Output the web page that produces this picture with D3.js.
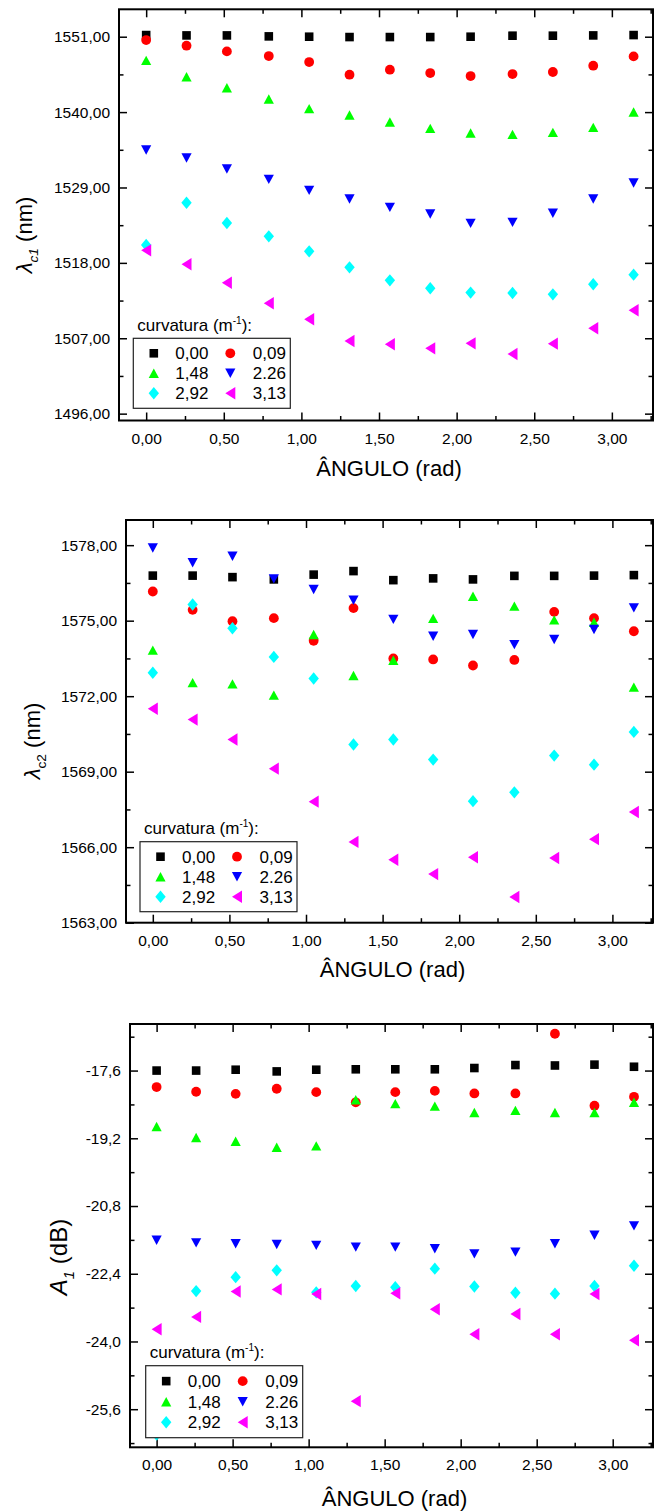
<!DOCTYPE html>
<html><head><meta charset="utf-8">
<script src="https://cdn.jsdelivr.net/npm/d3@7"></script>
<style>
body{margin:0;background:#fff}
svg{display:block}
text{font-family:"Liberation Sans",Arial,Helvetica,sans-serif;fill:#000}
</style>
</head><body>
<svg id="c" width="655" height="1512"></svg>
<script>
// ---------- data ----------
const angle = [0, 0.26, 0.52, 0.79, 1.05, 1.31, 1.57, 1.83, 2.09, 2.36, 2.62, 2.88, 3.14];
const curvatures = ["0,00", "0,09", "1,48", "2.26", "2,92", "3,13"];
const colors = ["#000000", "#ff0000", "#00ff00", "#0000ff", "#00ffff", "#ff00ff"];
const shapes = ["square", "circle", "up", "down", "diamond", "left"];

const xTicks = [0, 0.5, 1, 1.5, 2, 2.5, 3];
const xMinor = [0.25, 0.75, 1.25, 1.75, 2.25, 2.75, 3.25];

// lambda c1 (nm)
const lc1_000 = [1551.24,1551.19,1551.19,1551.05,1551.00,1550.95,1550.95,1550.95,1551.00,1551.15,1551.15,1551.19,1551.24];
const lc1_009 = [1550.51,1549.69,1548.86,1548.18,1547.30,1545.46,1546.19,1545.70,1545.26,1545.55,1545.85,1546.77,1548.13];
const lc1_148 = [1547.55,1545.16,1543.56,1541.91,1540.50,1539.57,1538.55,1537.63,1536.95,1536.75,1537.04,1537.77,1540.01];
const lc1_226 = [1534.47,1533.30,1531.70,1530.19,1528.58,1527.32,1526.10,1525.13,1523.77,1523.91,1525.23,1527.32,1529.65];
const lc1_292 = [1520.61,1526.78,1523.82,1521.87,1519.68,1517.35,1515.45,1514.29,1513.66,1513.61,1513.41,1514.87,1516.28];
const lc1_313 = [1519.83,1517.79,1515.11,1512.10,1509.77,1506.60,1506.12,1505.53,1506.26,1504.71,1506.21,1508.45,1511.08];
const lc1Ticks = [1496, 1507, 1518, 1529, 1540, 1551];
const lc1Minor = [1501.5, 1512.5, 1523.5, 1534.5, 1545.5];

// lambda c2 (nm)
const lc2_000 = [1576.79,1576.79,1576.73,1576.64,1576.83,1576.97,1576.61,1576.68,1576.64,1576.78,1576.78,1576.79,1576.81];
const lc2_009 = [1576.16,1575.43,1574.98,1575.10,1574.20,1575.50,1573.50,1573.46,1573.22,1573.44,1575.35,1575.10,1574.58];
const lc2_148 = [1573.83,1572.54,1572.49,1572.04,1574.45,1572.82,1573.43,1575.09,1575.97,1575.58,1575.03,1574.94,1572.36];
const lc2_226 = [1577.89,1577.30,1577.56,1576.66,1576.24,1575.81,1575.05,1574.38,1574.45,1574.05,1574.25,1574.65,1575.51];
const lc2_292 = [1572.93,1575.64,1574.70,1573.56,1572.70,1570.08,1570.28,1569.48,1567.83,1568.18,1569.64,1569.28,1570.58];
const lc2_313 = [1571.50,1571.07,1570.28,1569.12,1567.81,1566.21,1565.50,1564.93,1565.60,1564.02,1565.57,1566.32,1567.40];
const lc2Ticks = [1563, 1566, 1569, 1572, 1575, 1578];
const lc2Minor = [1564.5, 1567.5, 1570.5, 1573.5, 1576.5];

// A1 (dB)
const a1_000 = [-17.60,-17.60,-17.58,-17.62,-17.58,-17.57,-17.57,-17.57,-17.54,-17.47,-17.48,-17.46,-17.51];
const a1_009 = [-17.99,-18.10,-18.15,-18.03,-18.11,-18.35,-18.11,-18.08,-18.14,-18.14,-16.73,-18.43,-18.22];
const a1_148 = [-18.92,-19.18,-19.27,-19.41,-19.38,-18.29,-18.38,-18.44,-18.59,-18.54,-18.59,-18.59,-18.35];
const a1_226 = [-21.61,-21.67,-21.69,-21.71,-21.73,-21.77,-21.77,-21.81,-21.93,-21.89,-21.69,-21.49,-21.27];
const a1_292 = [-26.20,-22.81,-22.48,-22.32,-22.84,-22.69,-22.72,-22.28,-22.70,-22.85,-22.87,-22.69,-22.21];
const a1_313 = [-23.71,-23.42,-22.82,-22.77,-22.88,-25.41,-22.86,-23.24,-23.83,-23.35,-23.83,-22.88,-23.97];
const a1Ticks = [-25.6, -24.0, -22.4, -20.8, -19.2, -17.6];
const a1Minor = [-26.4, -24.8, -23.2, -21.6, -20.0, -18.4, -16.8];

// ---------- drawing ----------
const svg = d3.select("#c");
svg.append("rect").attr("width", 655).attr("height", 1512).attr("fill", "#fff");

const xDomain = [-0.175, 3.265];
const RIGHT = 653;

function markerPath(shape) {
  switch (shape) {
    case "square": return "M-4.3,-4.3H4.3V4.3H-4.3Z";
    case "circle": return d3.arc()({innerRadius:0, outerRadius:4.9, startAngle:0, endAngle:2*Math.PI});
    case "up": return "M0,-4.7L5.1,4.7L-5.1,4.7Z";
    case "down": return "M-5.1,-4.7L5.1,-4.7L0,4.7Z";
    case "diamond": return "M0,-6.2L5.2,0L0,6.2L-5.2,0Z";
    case "left": return "M-5,0L5,-6.2L5,6.2Z";
  }
}

function yTitle(g, cfg) {
  const t = g.append("text")
    .attr("transform", `translate(${cfg.titleX},${cfg.titleY}) rotate(-90)`)
    .attr("text-anchor", "middle")
    .style("font-size", cfg.titleSize + "px");
  t.append("tspan").text(cfg.titleMain).style("font-style", "italic");
  t.append("tspan").text(cfg.titleSub)
    .style("font-size", (cfg.titleSize * 0.62) + "px")
    .style("font-style", cfg.subItalic ? "italic" : "normal")
    .attr("dy", cfg.titleSize * 0.28);
  t.append("tspan").text(cfg.titleRest).attr("dy", -cfg.titleSize * 0.28);
}

function legend(g, cfg) {
  const bx = cfg.legX, by = cfg.legY, bw = 157, bh = cfg.legH;
  const cap = g.append("text").attr("x", bx + 4).attr("y", by - 7.5).style("font-size", "17px");
  cap.append("tspan").text("curvatura (m");
  cap.append("tspan").text("-1").style("font-size", "10px").attr("dy", -7);
  cap.append("tspan").text("):").attr("dy", 7);
  g.append("rect").attr("x", bx).attr("y", by).attr("width", bw).attr("height", bh)
    .attr("fill", "#fff").attr("stroke", "#222").attr("stroke-width", 1.2);
  const colSym = [20.5, 97], colTxt = [42, 119.5];
  curvatures.forEach((c, i) => {
    const col = i % 2, row = Math.floor(i / 2);
    const cy = by + bh * (15 / 70) + row * bh * (20 / 70);
    g.append("path").attr("d", markerPath(shapes[i]))
      .attr("transform", `translate(${bx + colSym[col]},${cy})`)
      .attr("fill", colors[i]);
    g.append("text").attr("x", bx + colTxt[col]).attr("y", cy + 6)
      .style("font-size", "17px").text(c);
  });
}

function panel(cfg) {
  const g = svg.append("g");
  const x = d3.scaleLinear().domain(xDomain).range([cfg.left, RIGHT]);
  const y = d3.scaleLinear().domain(cfg.yDomain).range([cfg.bottom, cfg.top]);
  const fx = d => d.toFixed(2).replace(".", ",");
  const fy = d => d.toFixed(cfg.dec).replace(".", ",");

  const style = sel => {
    sel.select(".domain").remove();
    sel.selectAll(".tick line").attr("stroke", "#000").attr("stroke-width", 1.5);
    sel.selectAll("text").style("font-size", "15.5px")
      .attr("font-family", null).style("font-family", '"Liberation Sans",Arial,sans-serif');
  };
  const MAJ = -8, MIN = -4.5;
  // bottom
  g.append("g").attr("transform", `translate(0,${cfg.bottom})`)
    .call(d3.axisBottom(x).tickValues(xTicks).tickSize(MAJ).tickPadding(12).tickFormat(fx)).call(style);
  g.append("g").attr("transform", `translate(0,${cfg.bottom})`)
    .call(d3.axisBottom(x).tickValues(xMinor).tickSize(MIN).tickFormat("")).call(style);
  // top
  g.append("g").attr("transform", `translate(0,${cfg.top})`)
    .call(d3.axisTop(x).tickValues(xTicks).tickSize(MAJ).tickFormat("")).call(style);
  g.append("g").attr("transform", `translate(0,${cfg.top})`)
    .call(d3.axisTop(x).tickValues(xMinor).tickSize(MIN).tickFormat("")).call(style);
  // left
  g.append("g").attr("transform", `translate(${cfg.left},0)`)
    .call(d3.axisLeft(y).tickValues(cfg.yTicks).tickSize(MAJ).tickPadding(9).tickFormat(fy)).call(style);
  g.append("g").attr("transform", `translate(${cfg.left},0)`)
    .call(d3.axisLeft(y).tickValues(cfg.yMinor).tickSize(MIN).tickFormat("")).call(style);
  // right
  g.append("g").attr("transform", `translate(${RIGHT},0)`)
    .call(d3.axisRight(y).tickValues(cfg.yTicks).tickSize(MAJ).tickFormat("")).call(style);
  g.append("g").attr("transform", `translate(${RIGHT},0)`)
    .call(d3.axisRight(y).tickValues(cfg.yMinor).tickSize(MIN).tickFormat("")).call(style);

  // frame
  g.append("rect").attr("x", cfg.left).attr("y", cfg.top)
    .attr("width", RIGHT - cfg.left).attr("height", cfg.bottom - cfg.top)
    .attr("fill", "none").attr("stroke", "#000").attr("stroke-width", 2);

  // series
  cfg.series.forEach((vals, si) => {
    g.append("g").selectAll("path").data(vals).join("path")
      .attr("d", markerPath(shapes[si]))
      .attr("transform", (v, i) => `translate(${x(angle[i])},${y(v)})`)
      .attr("fill", colors[si]);
  });

  // x title
  g.append("text").attr("x", (cfg.left + RIGHT) / 2 + 3).attr("y", cfg.xTitleY)
    .attr("text-anchor", "middle").style("font-size", "22px").text("ÂNGULO (rad)");

  yTitle(g, cfg);
  legend(g, cfg);
}

panel({
  left: 119, top: 9.3, bottom: 420.5, yDomain: [1495, 1555], yTicks: lc1Ticks, yMinor: lc1Minor, dec: 2,
  series: [lc1_000, lc1_009, lc1_148, lc1_226, lc1_292, lc1_313],
  titleMain: "λ", titleSub: "c1", subItalic: true, titleRest: " (nm)", titleX: 32, titleY: 235, titleSize: 22,
  xTitleY: 475.5, legX: 133.3, legY: 338.3, legH: 70
});
panel({
  left: 126, top: 520, bottom: 922.7, yDomain: [1563, 1579], yTicks: lc2Ticks, yMinor: lc2Minor, dec: 2,
  series: [lc2_000, lc2_009, lc2_148, lc2_226, lc2_292, lc2_313],
  titleMain: "λ", titleSub: "c2", subItalic: false, titleRest: " (nm)", titleX: 40, titleY: 741, titleSize: 22,
  xTitleY: 977, legX: 140, legY: 841.7, legH: 70
});
panel({
  left: 130, top: 1024, bottom: 1447.3, yDomain: [-26.5, -16.5], yTicks: a1Ticks, yMinor: a1Minor, dec: 1,
  series: [a1_000, a1_009, a1_148, a1_226, a1_292, a1_313],
  titleMain: "A", titleSub: "1", subItalic: true, titleRest: " (dB)", titleX: 67, titleY: 1257, titleSize: 24,
  xTitleY: 1505.5, legX: 145.7, legY: 1365.7, legH: 72
});
</script>
</body></html>
